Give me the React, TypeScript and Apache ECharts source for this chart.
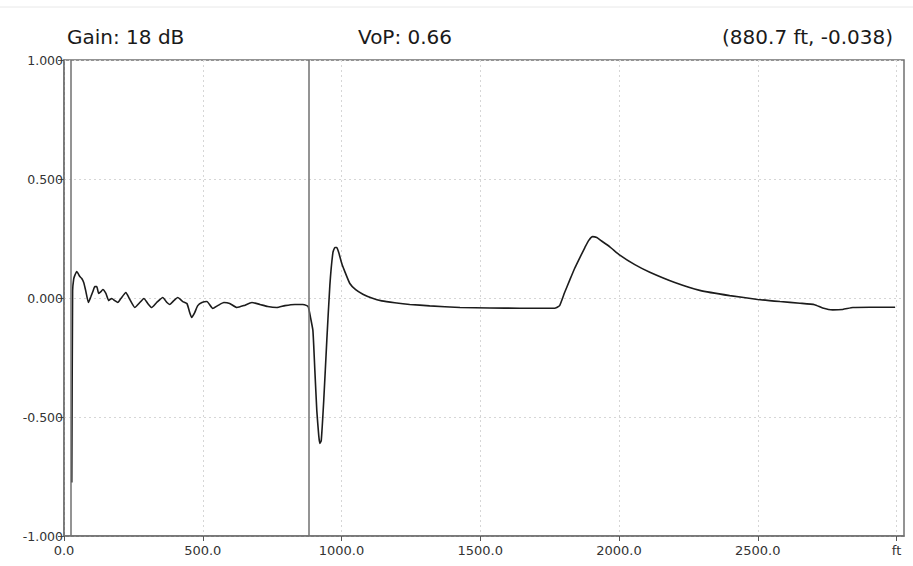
import React, { useEffect, useRef } from "react";
import * as echarts from "echarts";

const headerGain = "Gain: 18 dB";
const headerVop = "VoP: 0.66";
const headerCursor = "(880.7 ft, -0.038)";

const xTickValues = [0, 500, 1000, 1500, 2000, 2500, 3000];
const cursorsFt = [24.5, 880.7];

const distanceFt = [
  28, 31, 35, 39, 46, 57, 64, 71, 78, 88, 97, 104, 111, 118, 125, 133, 140, 151, 161, 172,
  183, 194, 205, 223, 237, 255, 273, 288, 302, 316, 334, 356, 371, 381, 396, 410, 428, 443,
  453, 460, 471, 482, 497, 515, 536, 554, 576, 597, 623, 648, 677, 706, 734, 767, 796, 832,
  860, 875, 880.7, 889, 897, 904, 911, 918, 922, 927, 936, 947, 958, 969, 976, 983, 990,
  1001, 1012, 1030, 1051, 1077, 1109, 1145, 1192, 1246, 1318, 1427, 1534, 1642, 1768, 1786,
  1804, 1822, 1840, 1859, 1877, 1891, 1905, 1920, 1934, 1967, 2003, 2057, 2111, 2201, 2291,
  2399, 2500, 2580, 2652, 2705, 2734, 2770, 2806, 2843, 2904, 2995,
];

const amplitude = [
  -0.775, 0.03, 0.08, 0.095, 0.111, 0.09, 0.082, 0.065, 0.032, -0.019, 0.006, 0.027, 0.048,
  0.048, 0.019, 0.027, 0.036, 0.019, -0.011, -0.002, -0.011, -0.019, -0.002, 0.023, -0.006,
  -0.04, -0.019, -0.002, -0.023, -0.04, -0.019, 0.002, -0.019, -0.027, -0.011, 0.002, -0.015,
  -0.023, -0.061, -0.082, -0.061, -0.032, -0.019, -0.015, -0.044, -0.032, -0.019, -0.023,
  -0.04, -0.032, -0.019, -0.027, -0.036, -0.04, -0.032, -0.027, -0.027, -0.032, -0.038,
  -0.086, -0.137, -0.305, -0.473, -0.578, -0.611, -0.599, -0.431, -0.179, 0.053, 0.191,
  0.212, 0.212, 0.191, 0.145, 0.111, 0.061, 0.035, 0.016, 0.0, -0.012, -0.02, -0.027, -0.033,
  -0.04, -0.042, -0.043, -0.043, -0.032, 0.023, 0.074, 0.124, 0.17, 0.212, 0.242, 0.258,
  0.254, 0.242, 0.215, 0.18, 0.14, 0.108, 0.065, 0.032, 0.01, -0.006, -0.015, -0.022, -0.028,
  -0.042, -0.05, -0.048, -0.04, -0.039, -0.039,
];

export default function App() {
  const ref = useRef<HTMLDivElement>(null);

  useEffect(() => {
    document.body.style.margin = "0";
    if (!ref.current) return;
    const chart = echarts.init(ref.current, null, { renderer: "svg" });
    const data = distanceFt.map((d, i) => [d, amplitude[i]]);
    const labelFont = "'DejaVu Sans', sans-serif";
    const gridLine = { show: true, lineStyle: { color: "#d6d6d6", type: [2, 3] as any, width: 1 } };

    chart.setOption({
      animation: false,
      backgroundColor: "#ffffff",
      grid: {
        left: 64,
        right: 9,
        top: 60,
        bottom: 30,
        show: true,
        borderColor: "#707070",
        borderWidth: 1.5,
        backgroundColor: "transparent",
      },
      xAxis: {
        type: "value",
        min: 0,
        max: 3027,
        axisLine: { show: true, onZero: false, lineStyle: { color: "#707070", width: 1.5 } },
        axisTick: {
          show: true,
          customValues: xTickValues,
          length: 5,
          lineStyle: { color: "#555" },
        },
        axisLabel: {
          customValues: xTickValues,
          formatter: (v: number) => (v === 3000 ? "ft" : v.toFixed(1)),
          fontSize: 13,
          fontFamily: labelFont,
          color: "#333",
          margin: 8,
        },
        splitLine: gridLine,
      },
      yAxis: {
        type: "value",
        min: -1,
        max: 1,
        interval: 0.5,
        axisLine: { show: true, onZero: false, lineStyle: { color: "#707070", width: 1.5 } },
        axisTick: { show: true, length: 6, lineStyle: { color: "#555" } },
        axisLabel: {
          formatter: (v: number) => v.toFixed(3),
          fontSize: 12.5,
          fontFamily: labelFont,
          color: "#333",
          margin: 1,
        },
        splitLine: gridLine,
      },
      series: [
        {
          type: "line",
          data,
          showSymbol: false,
          smooth: 0.15,
          lineStyle: { color: "#1c1c1c", width: 1.6 },
          markLine: {
            silent: true,
            symbol: "none",
            label: { show: false },
            lineStyle: { color: "#707070", width: 1.5, type: "solid" },
            data: cursorsFt.map((c) => ({ xAxis: c })),
          },
        },
      ],
      graphic: [
        {
          type: "line",
          shape: { x1: 0, y1: 7, x2: 913, y2: 7 },
          style: { stroke: "#e8e8e8", lineWidth: 1 },
        },
        {
          type: "text",
          left: 67,
          top: 27,
          style: { text: headerGain, font: "20px 'DejaVu Sans', sans-serif", fill: "#1a1a1a" },
        },
        {
          type: "text",
          left: 358,
          top: 27,
          style: { text: headerVop, font: "20px 'DejaVu Sans', sans-serif", fill: "#1a1a1a" },
        },
        {
          type: "text",
          right: 20,
          top: 27,
          style: { text: headerCursor, font: "20px 'DejaVu Sans', sans-serif", fill: "#1a1a1a" },
        },
      ],
    });
    return () => chart.dispose();
  }, []);

  return <div ref={ref} style={{ width: 913, height: 566 }} />;
}
